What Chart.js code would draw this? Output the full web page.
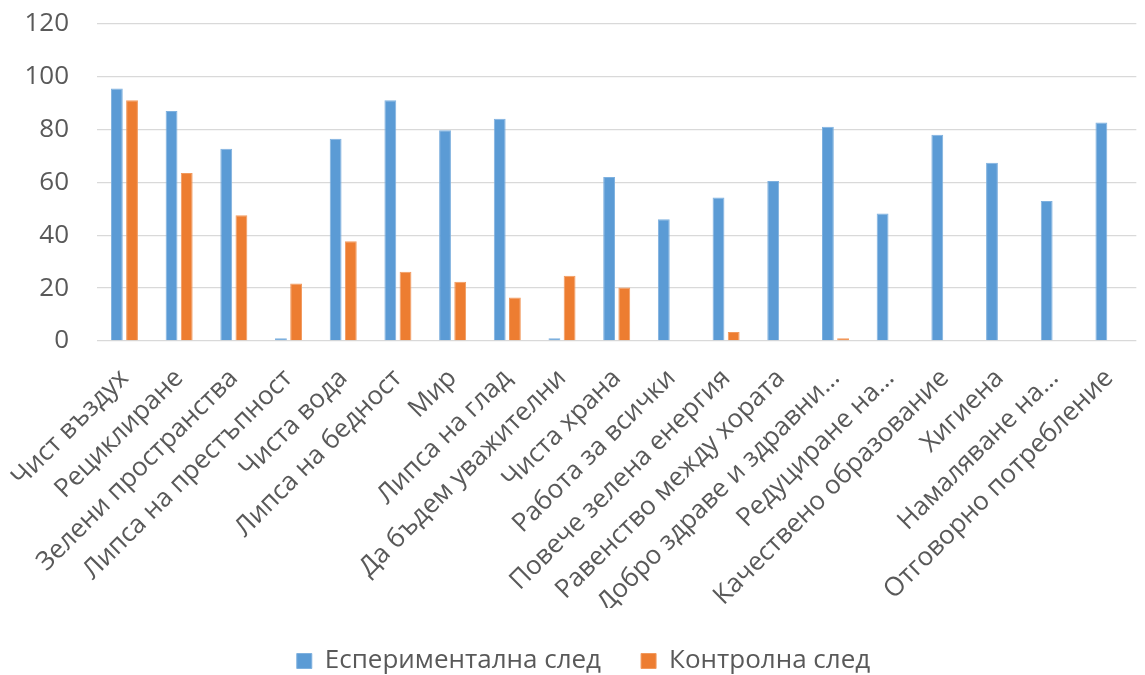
<!DOCTYPE html>
<html lang="bg">
  <head>
    <meta charset="UTF-8" />
    <title>Експериментална и контролна след</title>
    <style>
      html, body { margin: 0; padding: 0; background: #fff; }
      #wrap { width: 1145px; height: 675px; }
    </style>
  </head>
  <body>
    <div id="wrap"><canvas id="myChart" width="1145" height="675"></canvas></div>
    <script src="https://cdn.jsdelivr.net/npm/chart.js@4/dist/chart.umd.min.js"></script>
    <script>
      const categories = [
        "Чист въздух", "Рециклиране", "Зелени пространства", "Липса на престъпност",
        "Чиста вода", "Липса на бедност", "Мир", "Липса на глад",
        "Да бъдем уважителни", "Чиста храна", "Работа за всички",
        "Повече зелена енергия", "Равенство между хората", "Добро здраве и здравни…",
        "Редуциране на…", "Качествено образование", "Хигиена", "Намаляване на…",
        "Отговорно потребление"
      ];
      const experimental = [95.5, 87, 72.7, 1, 76.5, 91, 79.7, 84, 1, 62, 46, 54.3, 60.5, 81, 48.2, 78, 67.4, 52.9, 82.6];
      const control = [91, 63.5, 47.5, 21.7, 37.7, 26.2, 22.4, 16.4, 24.7, 20.2, 0, 3.4, 0, 1, 0, 0, 0, 0, 0];
      const yTicks = [0, 20, 40, 60, 80, 100, 120];

      const textColor = "#595959";
      const font = { family: "'Open Sans', 'Noto Sans', sans-serif", size: 26 };

      new Chart("myChart", {
        type: "bar",
        data: {
          labels: categories,
          datasets: [
            {
              label: "Есперименталнa след",
              data: experimental,
              backgroundColor: "#5B9BD5",
              borderColor: "#7FB1DF",
              borderWidth: 1,
              categoryPercentage: 0.555,
              barPercentage: 0.78
            },
            {
              label: "Контролна след",
              data: control,
              backgroundColor: "#ED7D31",
              borderColor: "#F29A5E",
              borderWidth: 1,
              categoryPercentage: 0.555,
              barPercentage: 0.78
            }
          ]
        },
        options: {
          responsive: false,
          animation: false,
          layout: { padding: { top: 0, right: 0, left: 22, bottom: -9 } },
          plugins: {
            legend: {
              position: "bottom",
              labels: {
                color: textColor,
                font: font,
                boxWidth: 15,
                boxHeight: 15,
                padding: 40
              }
            },
            tooltip: { enabled: false }
          },
          scales: {
            x: {
              grid: { display: false },
              border: { display: false },
              ticks: {
                color: textColor,
                font: font,
                minRotation: 45,
                maxRotation: 45,
                autoSkip: false,
                padding: 14
              },
              afterFit: (scale) => { scale.height = 267; }
            },
            y: {
              min: 0,
              max: 120,
              afterBuildTicks: (scale) => { scale.ticks = yTicks.map((v) => ({ value: v })); },
              grid: { color: "#D9D9D9", lineWidth: 1.3, tickLength: 20, tickColor: "rgba(0,0,0,0)" },
              border: { display: false },
              ticks: { color: textColor, font: font, padding: 8 },
              afterFit: (scale) => { scale.width = 74; }
            }
          }
        }
      });
    </script>
  </body>
</html>
